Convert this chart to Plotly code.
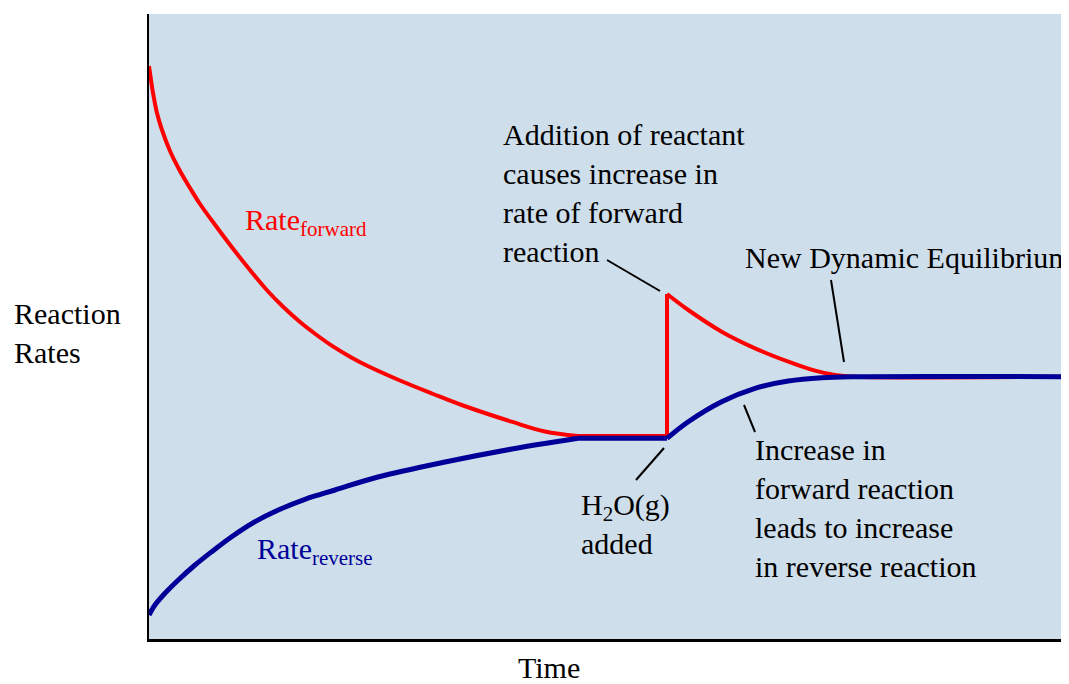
import plotly.graph_objects as go

# ---- data (time in arbitrary units 0-100, rate in arbitrary units 0-100) ----
# forward rate: initial decay, plateau, jump on H2O addition, second decay, new equilibrium
fwd_decay1_t = [0, 0.44, 0.87, 1.42, 2.29, 3.38, 4.47, 5.56, 7.38, 9.19, 11.01, 12.84,
                14.65, 16.47, 18.29, 20.10, 21.92, 23.74, 27.37, 31.00, 34.10, 39.55,
                43.18, 46.78]
fwd_decay1_r = [91.68, 87.36, 84.16, 81.44, 78.08, 74.88, 72.16, 69.60, 65.92, 62.40,
                59.04, 55.84, 53.12, 50.72, 48.64, 46.77, 45.17, 43.76, 41.36, 39.20,
                37.44, 34.77, 33.20, 32.48]
fwd_plateau_t = [46.78, 56.49, 56.49]
fwd_plateau_r = [32.48, 32.48, 55.2]
fwd_decay2_t = [56.49, 58.81, 62.45, 66.09, 69.72, 72.63, 74.81, 76.99, 100]
fwd_decay2_r = [55.2, 52.64, 49.17, 46.51, 44.37, 42.93, 42.24, 41.97, 41.97]

# reverse rate: initial rise, plateau, second rise, new equilibrium
rev_rise1_t = [0, 0.65, 1.74, 3.20, 5.02, 6.84, 9.02, 11.56, 14.10, 17.01, 20.29, 24.97,
               32.28, 39.59, 46.78]
rev_rise1_r = [3.84, 5.44, 7.31, 9.44, 11.84, 13.97, 16.37, 18.77, 20.64, 22.35, 23.84,
               25.92, 28.32, 30.40, 32.11]
rev_plateau_t = [46.78, 56.49]
rev_plateau_r = [32.11, 32.11]
rev_rise2_t = [56.49, 58.81, 62.45, 66.09, 69.72, 73.36, 76.99, 100]
rev_rise2_r = [32.11, 34.77, 37.97, 40.11, 41.28, 41.81, 41.97, 41.97]

RED = "#ff0000"
BLUE = "#000099"
FONT = "Liberation Serif"

# ---- layout geometry (page has an 8px body margin) ----
OFF = 8
L, R, T, B = 141, 3, 6, 45
W, H = 1061, 676
PW, PH = W - L - R, H - T - B


def px(xp):
    return (xp - OFF - L) / PW


def py(yp):
    return (H - B - (yp - OFF)) / PH


fig = go.Figure()


def add_line(xs, ys, color, width, curved):
    line = dict(color=color, width=width)
    if curved:
        line.update(shape="spline", smoothing=1.0)
    fig.add_trace(go.Scatter(x=xs, y=ys, mode="lines", line=line, hoverinfo="skip"))


add_line(fwd_decay1_t, fwd_decay1_r, RED, 4, True)
add_line(fwd_plateau_t, fwd_plateau_r, RED, 4, False)
add_line(fwd_decay2_t, fwd_decay2_r, RED, 4, True)
add_line(rev_rise1_t, rev_rise1_r, BLUE, 5, True)
add_line(rev_plateau_t, rev_plateau_r, BLUE, 5, False)
add_line(rev_rise2_t, rev_rise2_r, BLUE, 5, True)

anns = [
    ("Rate<sub>forward</sub>", 243, 222, "left", RED),
    ("Rate<sub>reverse</sub>", 255, 551, "left", BLUE),
    ("Addition of reactant<br>causes increase in<br>rate of forward<br>reaction", 501, 193, "left", "black"),
    ("New Dynamic Equilibrium", 743, 258, "left", "black"),
    ("H<sub>2</sub>O(g)<br>added", 579, 524, "left", "black"),
    ("Increase in<br>forward reaction<br>leads to increase<br>in reverse reaction", 753, 508, "left", "black"),
    ("Reaction<br>Rates", 12, 333, "left", "black"),
    ("Time", 549, 667, "center", "black"),
]
for text, x, y, xa, col in anns:
    fig.add_annotation(text=text, x=px(x), y=py(y), xref="paper", yref="paper",
                       xanchor=xa, yanchor="middle", align="left", showarrow=False,
                       font=dict(family=FONT, size=30, color=col))

pointers = [
    (607, 260, 660, 291),
    (831, 280, 844, 362),
    (744, 405, 755, 432),
    (664, 448, 636, 480),
]
for x0, y0, x1, y1 in pointers:
    fig.add_shape(type="line", xref="paper", yref="paper",
                  x0=px(x0), y0=py(y0), x1=px(x1), y1=py(y1),
                  line=dict(color="black", width=2))

fig.update_layout(
    width=W, height=H,
    margin=dict(l=L, r=R, t=T, b=B),
    plot_bgcolor="#cfdeeb", paper_bgcolor="white",
    showlegend=False,
    font=dict(family=FONT, size=30, color="black"),
)
fig.update_xaxes(range=[0, 100], showgrid=False, zeroline=False, showticklabels=False,
                 ticks="", showline=True, linecolor="black", linewidth=3)
fig.update_yaxes(range=[0, 100], showgrid=False, zeroline=False, showticklabels=False,
                 ticks="", showline=True, linecolor="black", linewidth=2)

fig.write_html("out.html")
